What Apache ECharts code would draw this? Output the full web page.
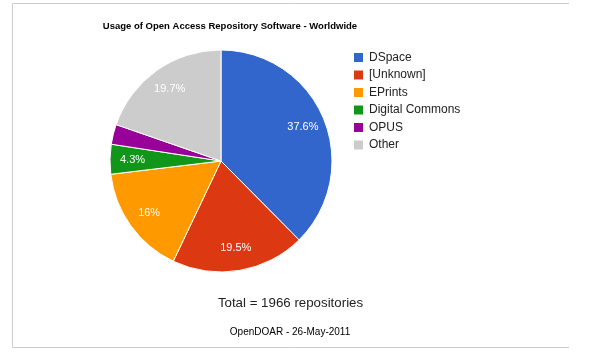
<!DOCTYPE html>
<html><head><meta charset="utf-8">
<script src="https://cdn.jsdelivr.net/npm/echarts@6/dist/echarts.min.js"></script>
<style>html,body{margin:0;padding:0;background:#fff}#c{width:589px;height:356px}</style>
</head><body><div id="c"></div>
<script>
const categories = ['DSpace', '[Unknown]', 'EPrints', 'Digital Commons', 'OPUS', 'Other'];
const counts = [739, 383, 315, 85, 57, 387];
const colors = ['#3366cc', '#dc3912', '#ff9900', '#109618', '#990099', '#cccccc'];
const titleText = 'Usage of Open Access Repository Software - Worldwide';
const totalText = 'Total = 1966 repositories';
const sourceText = 'OpenDOAR - 26-May-2011';

const chart = echarts.init(document.getElementById('c'));
const total = counts.reduce((a, b) => a + b, 0);
const mainData = categories.map((n, i) => ({ name: n, value: counts[i], itemStyle: { color: colors[i] } }));
const labelData = categories.map((n, i) => ({
  name: n, value: counts[i],
  label: { show: counts[i] / total >= 0.04 }
}));
chart.setOption({
  animation: false,
  color: colors,
  title: [
    { text: titleText, left: 230, top: 21, textAlign: 'center', padding: 0,
      textStyle: { fontFamily: 'Liberation Sans, Arial', fontSize: 9.5, fontWeight: 'bold', color: '#000' } },
    { text: totalText, left: 290.5, top: 296.5, textAlign: 'center', padding: 0,
      textStyle: { fontFamily: 'Liberation Sans, Arial', fontSize: 13.3, fontWeight: 'normal', color: '#222' } },
    { text: sourceText, left: 290, top: 327, textAlign: 'center', padding: 0,
      textStyle: { fontFamily: 'Liberation Sans, Arial', fontSize: 10, fontWeight: 'normal', color: '#000' } }
  ],
  legend: {
    orient: 'vertical', left: 352, top: 51, padding: 0,
    itemWidth: 11, itemHeight: 11, itemGap: 4.5, icon: 'rect',
    data: categories,
    textStyle: { fontFamily: 'Liberation Sans, Arial', fontSize: 12, color: '#222' }
  },
  graphic: [{
    type: 'polyline', silent: true,
    shape: { points: [[569, 3.5], [12.5, 3.5], [12.5, 347.5], [569, 347.5]] },
    style: { stroke: '#cccccc', lineWidth: 1, fill: null }
  }],
  series: [
    {
      type: 'pie', center: [221, 161], radius: [0, 111],
      startAngle: 90, clockwise: true,
      label: { show: false }, labelLine: { show: false },
      itemStyle: { borderColor: '#fff', borderWidth: 1 },
      emphasis: { disabled: true },
      data: mainData
    },
    {
      type: 'pie', center: [221, 161], radius: [60, 111],
      startAngle: 90, clockwise: true, silent: true,
      itemStyle: { color: 'rgba(0,0,0,0)', borderWidth: 0 },
      label: {
        position: 'inside', color: '#fff',
        fontFamily: 'Liberation Sans, Arial', fontSize: 11,
        formatter: p => (Math.round(p.value / total * 1000) / 10) + '%'
      },
      labelLine: { show: false },
      emphasis: { disabled: true },
      tooltip: { show: false },
      data: labelData
    }
  ]
});
</script></body></html>
